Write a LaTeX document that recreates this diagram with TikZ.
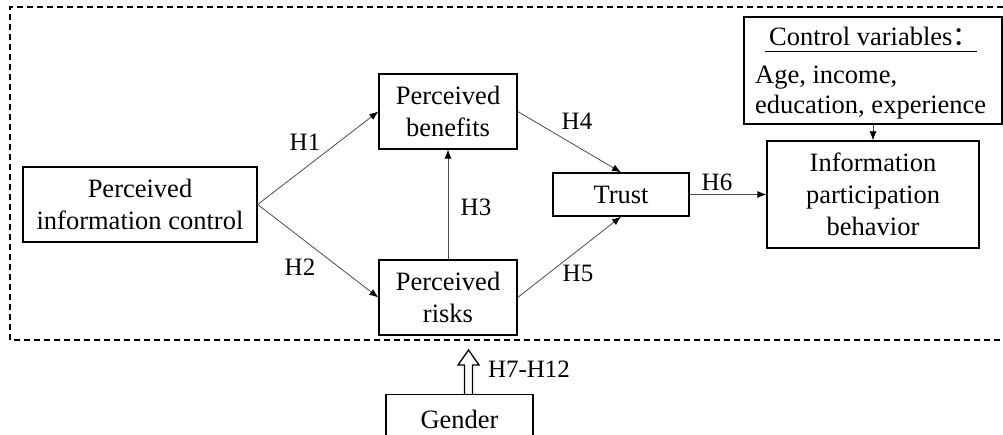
\documentclass[tikz,border=0pt]{standalone}
\usepackage{fontspec}
\setmainfont{Liberation Serif}
\newfontfamily\cjk{Noto Sans CJK SC}
\usetikzlibrary{arrows.meta,calc}
\begin{document}
\begin{tikzpicture}[x=1pt,y=-1pt,
  box/.style={draw=black, line width=1.3pt, inner sep=0pt, align=center,
    font=\fontsize{26.5}{32}\selectfont},
  txt/.style={inner sep=0pt, font=\fontsize{26.5}{32}\selectfont},
  lab/.style={inner sep=0pt, font=\fontsize{25}{30}\selectfont},
  conn/.style={draw=black!70, line width=0.8pt, -{Latex[length=9pt,width=7pt,color=black]}},
  hollow/.style={draw=black, line width=1.3pt, line join=miter},
  frame/.style={draw=black, line width=1.3pt, dash pattern=on 6pt off 4pt}]
\useasboundingbox (0,0) rectangle (1003,435);
\clip (0,0) rectangle (1003,435);
% dashed frame
\draw[frame] (1003,7) -- (10,7) -- (10,340) -- (1003,340);
% nodes
\node[box, minimum width=234, minimum height=75] (pic) at (140,204.5) {Perceived\\information control};
\node[box, minimum width=138, minimum height=75] (ben) at (448,111.5) {Perceived\\benefits};
\node[box, minimum width=138, minimum height=75] (risk) at (448,297.5) {Perceived\\risks};
\node[box, minimum width=136, minimum height=43] (trust) at (621,194.5) {Trust};
\node[box, minimum width=212, minimum height=107] (ipb) at (873,194.5) {Information\\participation\\behavior};
\node[box, minimum width=258, minimum height=107] (ctrl) at (873,70.5) {};
\node[txt, anchor=base west] (cv) at (769,46) {Control variables{\cjk ：}};
\node[txt, anchor=base west] (cv2) at (755,84) {Age, income,};
\node[txt, anchor=base west] (cv3) at (755,114) {education, experience};
\draw[line width=1pt] ($(cv.base west)+(-4,6)$) -- ($(cv.base east)+(-2,6)$);
\node[box, minimum width=147, minimum height=80, anchor=north] (gender) at (459.5,394) {};
\node[txt, anchor=base] (gtxt) at (459.5,428) {Gender};
% connectors
\draw[conn] (pic.east) -- (ben.west);
\draw[conn] (pic.east) -- (risk.west);
\draw[conn] (risk.north) -- (ben.south);
\draw[conn] (ben.east) -- (trust.north);
\draw[conn] (risk.east) -- (trust.south);
\draw[conn] (trust.east) -- (ipb.west);
\draw[conn] (ctrl.south) -- (ipb.north);
% hollow double arrow from gender up to the frame
\coordinate (gbase) at ($(gender.north)+(9,0)$);
\draw[hollow] ($(gbase)+(-4,0)$) |- ($(gbase)+(-10.5,-29)$) -- ($(gbase)+(0,-44)$)
  -- ($(gbase)+(10.5,-29)$) -| ($(gbase)+(4,0)$);
% labels
\node[lab] (h1) at (305,142) {H1};
\node[lab] (h2) at (300,267) {H2};
\node[lab] (h3) at (476,207) {H3};
\node[lab] (h4) at (577,121) {H4};
\node[lab] (h5) at (578,273) {H5};
\node[lab] (h6) at (717,182) {H6};
\node[lab] (h7) at (529,369) {H7-H12};
\end{tikzpicture}
\end{document}
